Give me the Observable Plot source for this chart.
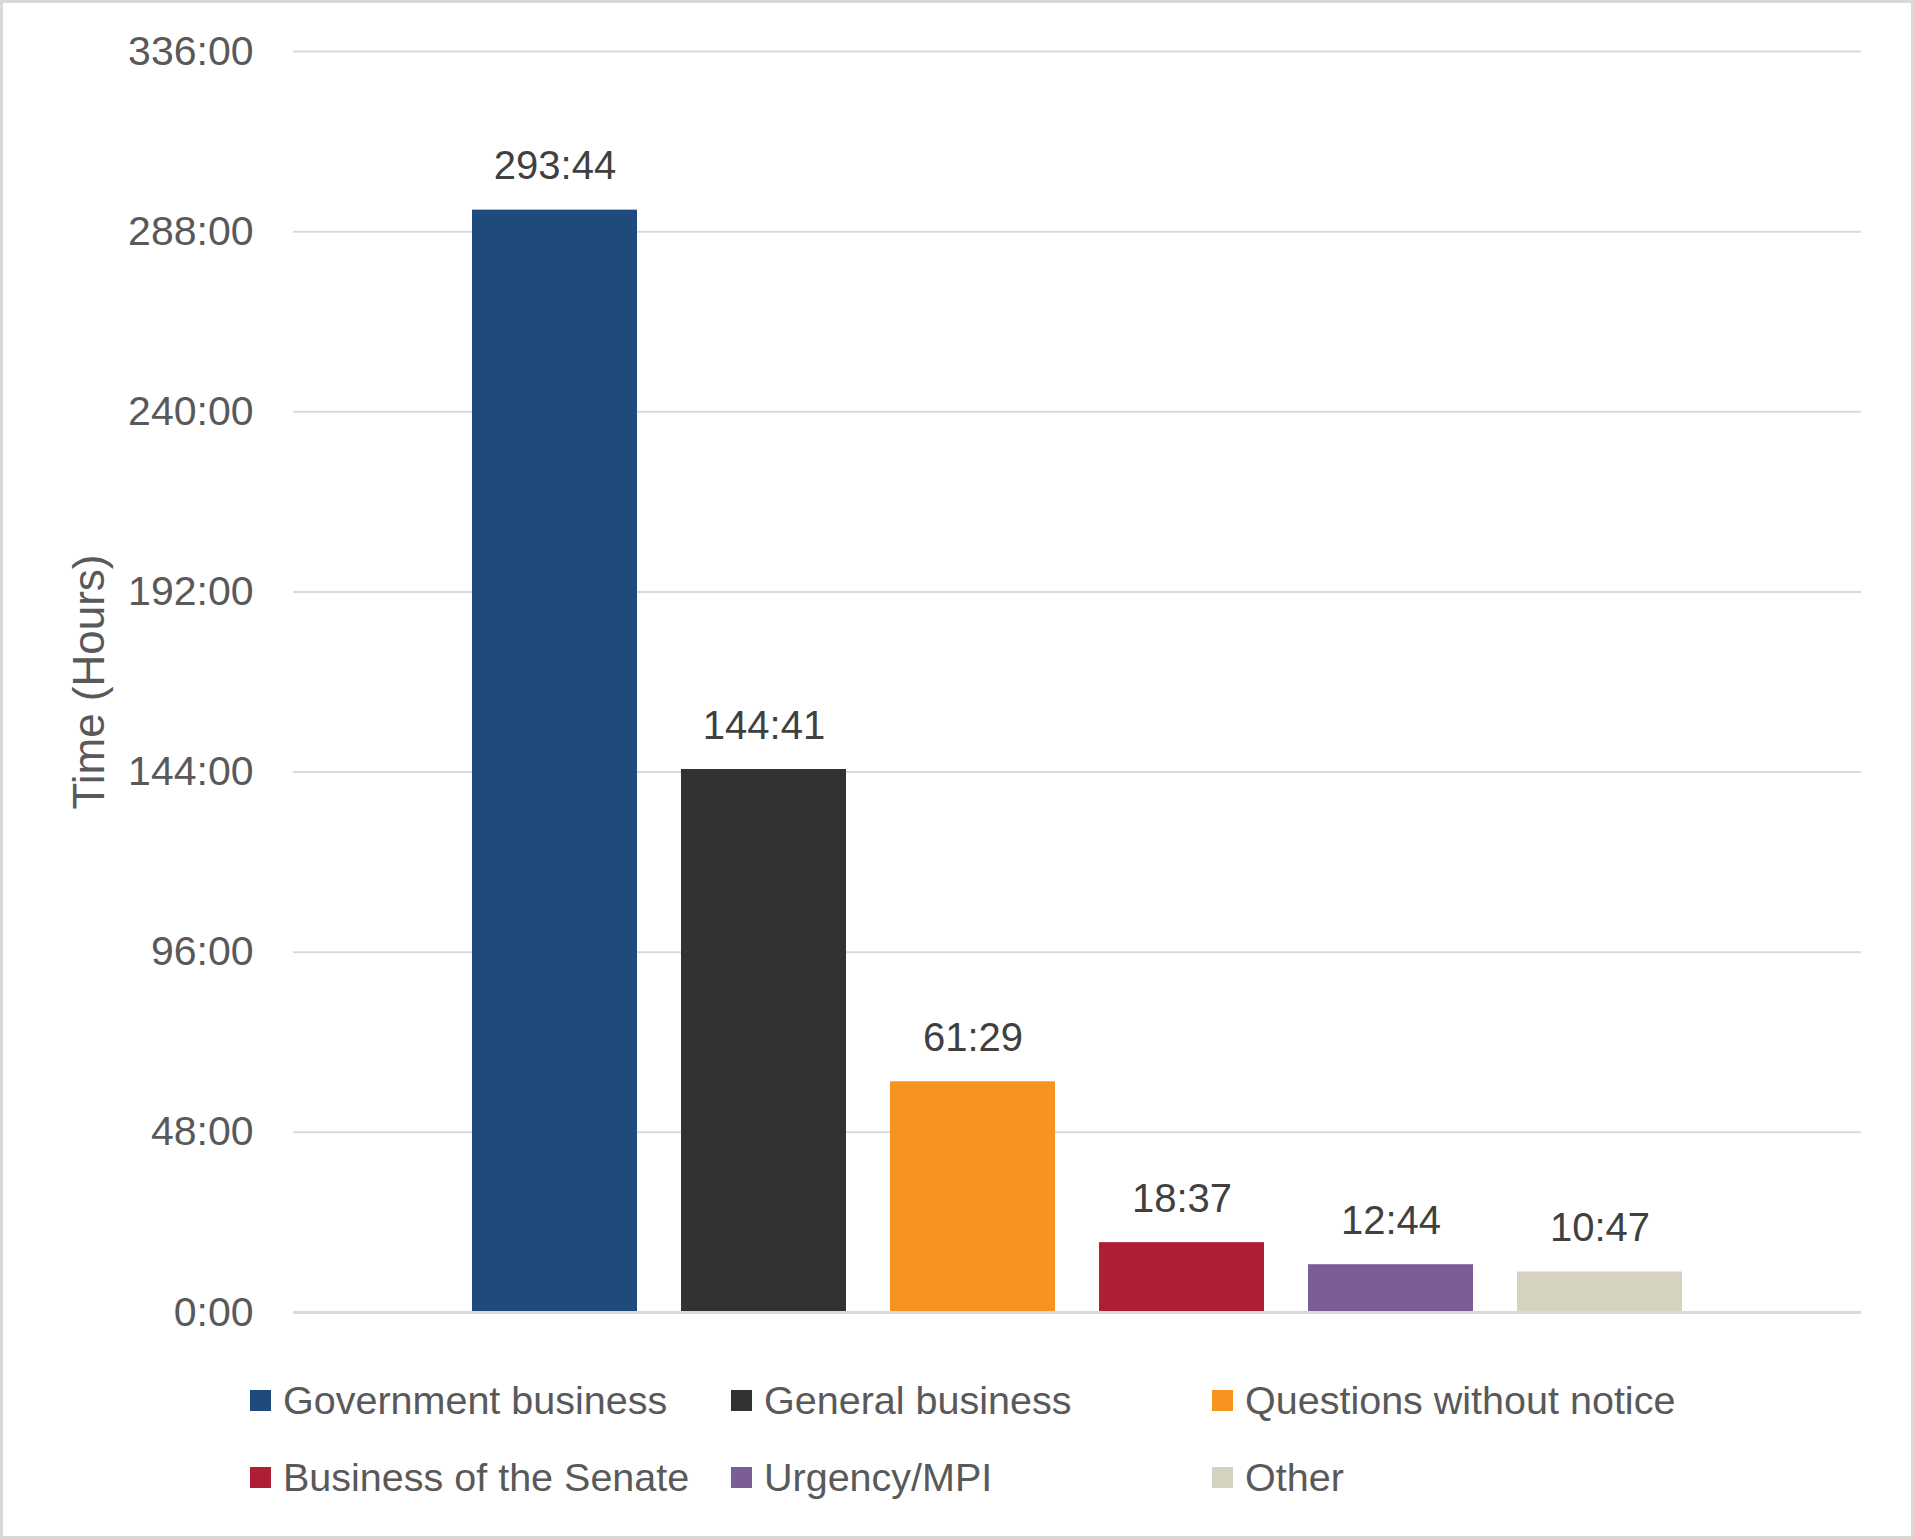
<!DOCTYPE html>
<html>
<head>
<meta charset="utf-8">
<script src="https://cdn.jsdelivr.net/npm/d3@7"></script>
<script src="https://cdn.jsdelivr.net/npm/@observablehq/plot@0.6"></script>
<style>
  html, body { margin: 0; padding: 0; background: #fff; }
  #wrap { position: relative; width: 1914px; height: 1539px; overflow: hidden; font-family: "Liberation Sans", Arial, sans-serif; }
  #frame { position: absolute; left: 0; top: 0; width: 1914px; height: 1539px; box-sizing: border-box; border: 3px solid #d9d9d9; pointer-events: none; }
  #legend { position: absolute; left: 250px; top: 1362px; display: grid; grid-template-columns: 481px 481px 481px; grid-auto-rows: 77px; }
  .item { display: flex; align-items: center; font-size: 39.5px; color: #595959; white-space: nowrap; }
  .sw { width: 21px; height: 21px; margin-right: 12px; flex: none; }
</style>
</head>
<body>
<div id="wrap">
  <div id="chart"></div>
  <div id="legend"></div>
  <div id="frame"></div>
</div>
<script>
const categories = ["Government business", "General business", "Questions without notice", "Business of the Senate", "Urgency/MPI", "Other"];
const durations = ["293:44", "144:41", "61:29", "18:37", "12:44", "10:47"];
const colors = ["#1F4A7C", "#333132", "#F7941F", "#AF1E35", "#7B5E95", "#D5D2BF"];
const yTicks = [0, 48, 96, 144, 192, 240, 288, 336];
const yLabel = "Time (Hours)";

const toHours = s => { const [h, m] = s.split(":").map(Number); return h + m / 60; };
const data = categories.map((c, i) => ({category: c, label: durations[i], hours: toHours(durations[i])}));

const plot = Plot.plot({
  width: 1914,
  height: 1362,
  marginTop: 51,
  marginBottom: 50,
  marginLeft: 293,
  marginRight: 53,
  style: {fontFamily: "'Liberation Sans', Arial, sans-serif", fontSize: "40px", background: "transparent"},
  x: {domain: categories, range: [450, 1704], paddingInner: 0.2105, paddingOuter: 0.105, axis: null},
  y: {domain: [0, 336], axis: null},
  color: {domain: categories, range: colors},
  marks: [
    Plot.ruleY(yTicks.filter(d => d > 0), {stroke: "#d9d9d9", strokeWidth: 2}),
    Plot.axisY({ticks: yTicks, tickSize: 0, tickPadding: 40, tickFormat: d => `${d}:00`, fill: "#595959", fontSize: 41, label: null}),
    Plot.barY(data, {x: "category", y: "hours", fill: "category"}),
    Plot.ruleY([0], {stroke: "#d9d9d9", strokeWidth: 3}),
    Plot.text(data, {x: "category", y: "hours", text: "label", fill: "#404040", fontSize: 40, lineAnchor: "bottom", dy: -31}),
    Plot.text([yLabel], {frameAnchor: "left", dx: -204, rotate: -90, fill: "#595959", fontSize: 44, textAnchor: "middle", lineAnchor: "middle"})
  ]
});
document.getElementById("chart").appendChild(plot);

const legend = document.getElementById("legend");
categories.forEach((c, i) => {
  const item = document.createElement("div");
  item.className = "item";
  const sw = document.createElement("span");
  sw.className = "sw";
  sw.style.background = colors[i];
  const t = document.createElement("span");
  t.textContent = c;
  item.appendChild(sw);
  item.appendChild(t);
  legend.appendChild(item);
});
</script>
</body>
</html>
